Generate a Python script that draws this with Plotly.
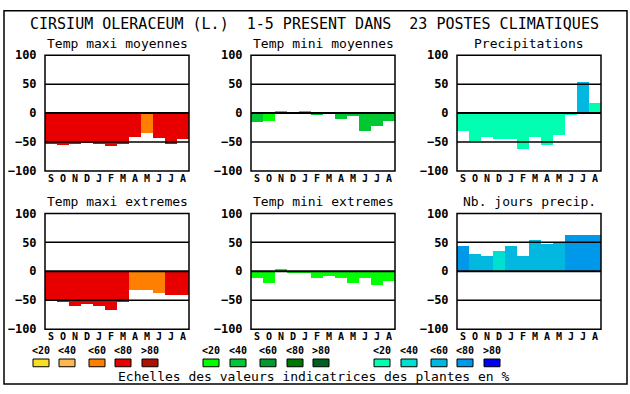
import plotly.graph_objects as go

months = ["S", "O", "N", "D", "J", "F", "M", "A", "M", "J", "J", "A"]

warm_colors = ["#f8e020", "#ffb850", "#ff8000", "#e80000", "#b01000"]
green_colors = ["#00ff00", "#00c832", "#009830", "#007800", "#006020"]
blue_colors = ["#00ffb0", "#00e0d0", "#00b8e0", "#0098e8", "#0000f0"]
scale_labels = ["<20", "<40", "<60", "<80", ">80"]

tmax_moy = [-54, -56, -54, -52, -54, -58, -54, -42, -34, -43, -53, -46]
tmax_moy_cls = [3, 3, 3, 3, 3, 3, 3, 3, 2, 3, 3, 3]

tmin_moy = [-15, -14, 3, 1, 3, -4, -2, -11, -5, -31, -23, -14]
tmin_moy_cls = [1, 0, 0, 0, 0, 1, 1, 1, 1, 1, 1, 1]

precip = [-31, -48, -41, -45, -45, -63, -41, -56, -38, -3, 53, 17]
precip_cls = [0, 0, 0, 0, 0, 0, 0, 0, 0, 0, 2, 0]

tmax_ext = [-50, -53, -61, -58, -61, -68, -54, -33, -33, -38, -41, -41]
tmax_ext_cls = [3, 3, 3, 3, 3, 3, 3, 2, 2, 2, 3, 3]

tmin_ext = [-13, -21, 4, -4, -4, -12, -8, -12, -21, -13, -24, -18]
tmin_ext_cls = [0] * 12

nb_jours = [43, 30, 25, 34, 43, 25, 53, 47, 49, 62, 62, 62]
nb_jours_cls = [3, 2, 2, 1, 2, 2, 2, 2, 2, 3, 3, 3]

panel_titles = ["Temp maxi moyennes", "Temp mini moyennes", "Precipitations",
                "Temp maxi extremes", "Temp mini extremes", "Nb. jours precip."]
title = "CIRSIUM OLERACEUM (L.)  1-5 PRESENT DANS  23 POSTES CLIMATIQUES"
footer = "Echelles des valeurs indicatrices des plantes en %"

W, H = 630, 394
def px(x): return x / W
def py(y): return 1 - y / H

panels = [
    (tmax_moy, tmax_moy_cls, warm_colors),
    (tmin_moy, tmin_moy_cls, green_colors),
    (precip, precip_cls, blue_colors),
    (tmax_ext, tmax_ext_cls, warm_colors),
    (tmin_ext, tmin_ext_cls, green_colors),
    (nb_jours, nb_jours_cls, blue_colors),
]

col_x = [(45, 189), (251, 395), (457, 601)]
row_y = [(50, 170), (214, 334)]

MONO = "DejaVu Sans Mono"
fig = go.Figure()
shapes = []
annotations = []

for i, (vals, cls, pal) in enumerate(panels):
    r, c = divmod(i, 3)
    n = i + 1
    xa = "x" if n == 1 else f"x{n}"
    ya = "y" if n == 1 else f"y{n}"
    fig.add_trace(go.Bar(
        x=list(range(12)), y=vals, base=0,
        marker=dict(color=[pal[k] for k in cls], line=dict(width=0)),
        width=1.0, xaxis=xa, yaxis=ya, showlegend=False,
    ))
    x0, x1 = col_x[c]
    y0, y1 = row_y[r]
    xkey = "xaxis" if n == 1 else f"xaxis{n}"
    ykey = "yaxis" if n == 1 else f"yaxis{n}"
    fig.layout[xkey] = dict(
        domain=[px(x0), px(x1)], anchor=ya, range=[-0.5, 11.5],
        tickvals=list(range(12)), ticktext=months,
        tickfont=dict(family=MONO, size=10, color="black", weight="bold"),
        showgrid=False, zeroline=False, showline=False,
        ticks="", fixedrange=True,
    )
    fig.layout[ykey] = dict(
        domain=[py(y1), py(y0)], anchor=xa, range=[-100, 100],
        tickvals=[-100, -50, 0, 50, 100],
        tickfont=dict(family=MONO, size=12, color="black", weight="bold"),
        showgrid=False, zeroline=False, showline=False,
        ticks="outside", ticklen=5, tickcolor="rgba(0,0,0,0)", fixedrange=True,
    )
    # gridlines drawn above the bars
    for gv in (-50, 0, 50):
        shapes.append(dict(type="line", xref=f"{xa} domain", yref=ya,
                           x0=0, x1=1, y0=gv, y1=gv, layer="above",
                           line=dict(color="black", width=2 if gv == 0 else 1.5)))
    shapes.append(dict(type="rect", xref=f"{xa} domain", yref=f"{ya} domain",
                       x0=0, x1=1, y0=0, y1=1, layer="above",
                       line=dict(color="black", width=1.5)))
    annotations.append(dict(text=panel_titles[i], xref="paper", yref="paper",
                            x=px((x0 + x1) / 2), y=py(y0 - 12), showarrow=False,
                            xanchor="center", yanchor="middle",
                            font=dict(family=MONO, size=13, color="black")))

annotations.append(dict(text=title, xref="paper", yref="paper",
                        x=px(314), y=py(18), showarrow=False,
                        xanchor="center", yanchor="middle",
                        font=dict(family=MONO, size=15, color="black")))

# legend scales
box_centers = [
    [41, 67, 97, 123, 150],
    [211, 238, 268, 295, 321],
    [382, 409, 439, 465, 492],
]
for g, pal in enumerate([warm_colors, green_colors, blue_colors]):
    for k in range(5):
        cx = box_centers[g][k]
        shapes.append(dict(type="rect", xref="paper", yref="paper",
                           x0=px(cx - 8), x1=px(cx + 8), y0=py(373), y1=py(365),
                           fillcolor=pal[k], line=dict(color="black", width=1)))
        annotations.append(dict(text=scale_labels[k], xref="paper", yref="paper",
                                x=px(cx), y=py(356), showarrow=False,
                                xanchor="center", yanchor="middle",
                                font=dict(family=MONO, size=10, color="black", weight="bold")))

annotations.append(dict(text=footer, xref="paper", yref="paper",
                        x=px(314), y=py(383), showarrow=False,
                        xanchor="center", yanchor="middle",
                        font=dict(family=MONO, size=13, color="black")))

# outer frame
shapes.append(dict(type="rect", xref="paper", yref="paper",
                   x0=px(4), x1=px(627), y0=py(391), y1=py(4),
                   line=dict(color="black", width=1.5)))

fig.update_layout(
    width=W, height=H, margin=dict(l=0, r=0, t=0, b=0),
    paper_bgcolor="white", plot_bgcolor="white",
    bargap=0, shapes=shapes, annotations=annotations,
    showlegend=False,
)
fig.write_html("out.html", config={"displayModeBar": False},
               post_script="document.body.style.margin='0';document.body.style.overflow='hidden';")
